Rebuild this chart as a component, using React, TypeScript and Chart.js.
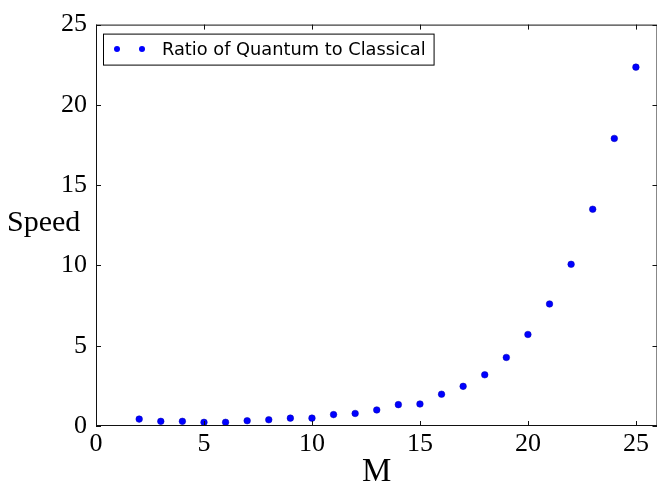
import { useEffect, useRef } from 'react';
import { Chart, registerables } from 'chart.js';

Chart.register(...registerables);

// Problem size M and the measured speed ratio (quantum / classical)
const mValues = [2, 3, 4, 5, 6, 7, 8, 9, 10, 11, 12, 13, 14, 15, 16, 17, 18, 19, 20, 21, 22, 23, 24, 25];
const speedRatio = [
  0.43, 0.29, 0.29, 0.23, 0.23, 0.33, 0.39, 0.49, 0.49, 0.71, 0.78, 1.0,
  1.33, 1.37, 1.98, 2.47, 3.19, 4.27, 5.7, 7.6, 10.07, 13.5, 17.91, 22.35,
];

const xTicks = [0, 5, 10, 15, 20, 25];
const yTicks = [0, 5, 10, 15, 20, 25];
const xRange = [0, 26];
const yRange = [0, 25];

const seriesLabel = 'Ratio of Quantum to Classical';
const xTitle = 'M';
const yTitle = 'Speed';

const SERIF = '"Liberation Serif", "Times New Roman", serif';
const SANS = '"DejaVu Sans", "Liberation Sans", sans-serif';
const MARKER = '#0000ff';
const FRAME = '#111';

// Frame, inward ticks on all four sides, axis titles and the boxed legend
const framePlugin = {
  id: 'frameAndLegend',
  afterDraw(chart: any) {
    const { ctx, chartArea } = chart;
    const { left, right, top, bottom } = chartArea;
    const xs = chart.scales.x;
    const ys = chart.scales.y;
    const tick = 5;

    ctx.save();
    ctx.strokeStyle = FRAME;
    ctx.lineWidth = 1;
    ctx.strokeRect(left + 0.5, top + 0.5, right - left - 1, bottom - top - 1);

    ctx.beginPath();
    xTicks.forEach((v) => {
      const px = Math.round(xs.getPixelForValue(v)) + 0.5;
      ctx.moveTo(px, bottom);
      ctx.lineTo(px, bottom - tick);
      ctx.moveTo(px, top);
      ctx.lineTo(px, top + tick);
    });
    yTicks.forEach((v) => {
      const py = Math.round(ys.getPixelForValue(v)) + 0.5;
      ctx.moveTo(left, py);
      ctx.lineTo(left + tick, py);
      ctx.moveTo(right, py);
      ctx.lineTo(right - tick, py);
    });
    ctx.stroke();

    // axis titles
    ctx.fillStyle = '#000';
    ctx.textBaseline = 'alphabetic';
    ctx.font = `30px ${SERIF}`;
    ctx.textAlign = 'left';
    ctx.fillText(yTitle, 7, 231);
    ctx.font = `33px ${SERIF}`;
    ctx.textAlign = 'center';
    ctx.fillText(xTitle, (left + right) / 2, 481);

    // legend box
    const ds = chart.data.datasets[0];
    ctx.font = `17.8px ${SANS}`;
    const textW = ctx.measureText(ds.label).width;
    const bx = left + 7;
    const by = top + 9;
    const textX = bx + 59;
    const bw = textX - bx + textW + 8;
    const bh = 31;
    ctx.fillStyle = '#fff';
    ctx.fillRect(bx, by, bw, bh);
    ctx.strokeStyle = '#000';
    ctx.lineWidth = 1;
    ctx.strokeRect(bx + 0.5, by + 0.5, bw, bh);

    const my = by + bh / 2;
    ctx.fillStyle = MARKER;
    [bx + 14, bx + 39].forEach((cx) => {
      ctx.beginPath();
      ctx.arc(cx, my, 3, 0, Math.PI * 2);
      ctx.fill();
    });
    ctx.fillStyle = '#000';
    ctx.textAlign = 'left';
    ctx.textBaseline = 'alphabetic';
    ctx.fillText(ds.label, textX, by + 21);
    ctx.restore();
  },
};

export default function App() {
  const canvasRef = useRef<HTMLCanvasElement | null>(null);

  useEffect(() => {
    const canvas = canvasRef.current;
    if (!canvas) return;
    const chart = new Chart(canvas, {
      type: 'scatter',
      data: {
        datasets: [
          {
            label: seriesLabel,
            data: mValues.map((m, i) => ({ x: m, y: speedRatio[i] })),
            backgroundColor: MARKER,
            borderColor: '#0000b0',
            borderWidth: 0.5,
            pointRadius: 3.3,
            showLine: false,
          },
        ],
      },
      options: {
        animation: false,
        responsive: false,
        maintainAspectRatio: false,
        devicePixelRatio: 1,
        layout: { padding: { left: 0, top: 18, right: 2, bottom: 0 } },
        plugins: {
          legend: { display: false },
          tooltip: { enabled: false },
        },
        scales: {
          x: {
            type: 'linear',
            min: xRange[0],
            max: xRange[1],
            afterBuildTicks: (scale: any) => {
              scale.ticks = xTicks.map((v) => ({ value: v }));
            },
            afterFit: (scale: any) => {
              scale.height = 69;
            },
            grid: { display: false, drawTicks: false },
            border: { display: false },
            ticks: {
              color: '#000',
              font: { family: SERIF, size: 26 },
              padding: 3,
              maxRotation: 0,
              autoSkip: false,
            },
          },
          y: {
            type: 'linear',
            min: yRange[0],
            max: yRange[1],
            afterBuildTicks: (scale: any) => {
              scale.ticks = yTicks.map((v) => ({ value: v }));
            },
            afterFit: (scale: any) => {
              scale.width = 96;
            },
            grid: { display: false, drawTicks: false },
            border: { display: false },
            ticks: {
              color: '#000',
              font: { family: SERIF, size: 26 },
              padding: 9,
              autoSkip: false,
            },
          },
        },
      },
      plugins: [framePlugin],
    });
    return () => chart.destroy();
  }, []);

  return (
    <div
      style={{
        position: 'fixed',
        left: 0,
        top: 0,
        width: 657,
        height: 481,
        overflow: 'hidden',
        background: '#fff',
      }}
    >
      <canvas
        ref={canvasRef}
        width={662}
        height={495}
        style={{ display: 'block', width: 662, height: 495 }}
      />
    </div>
  );
}
